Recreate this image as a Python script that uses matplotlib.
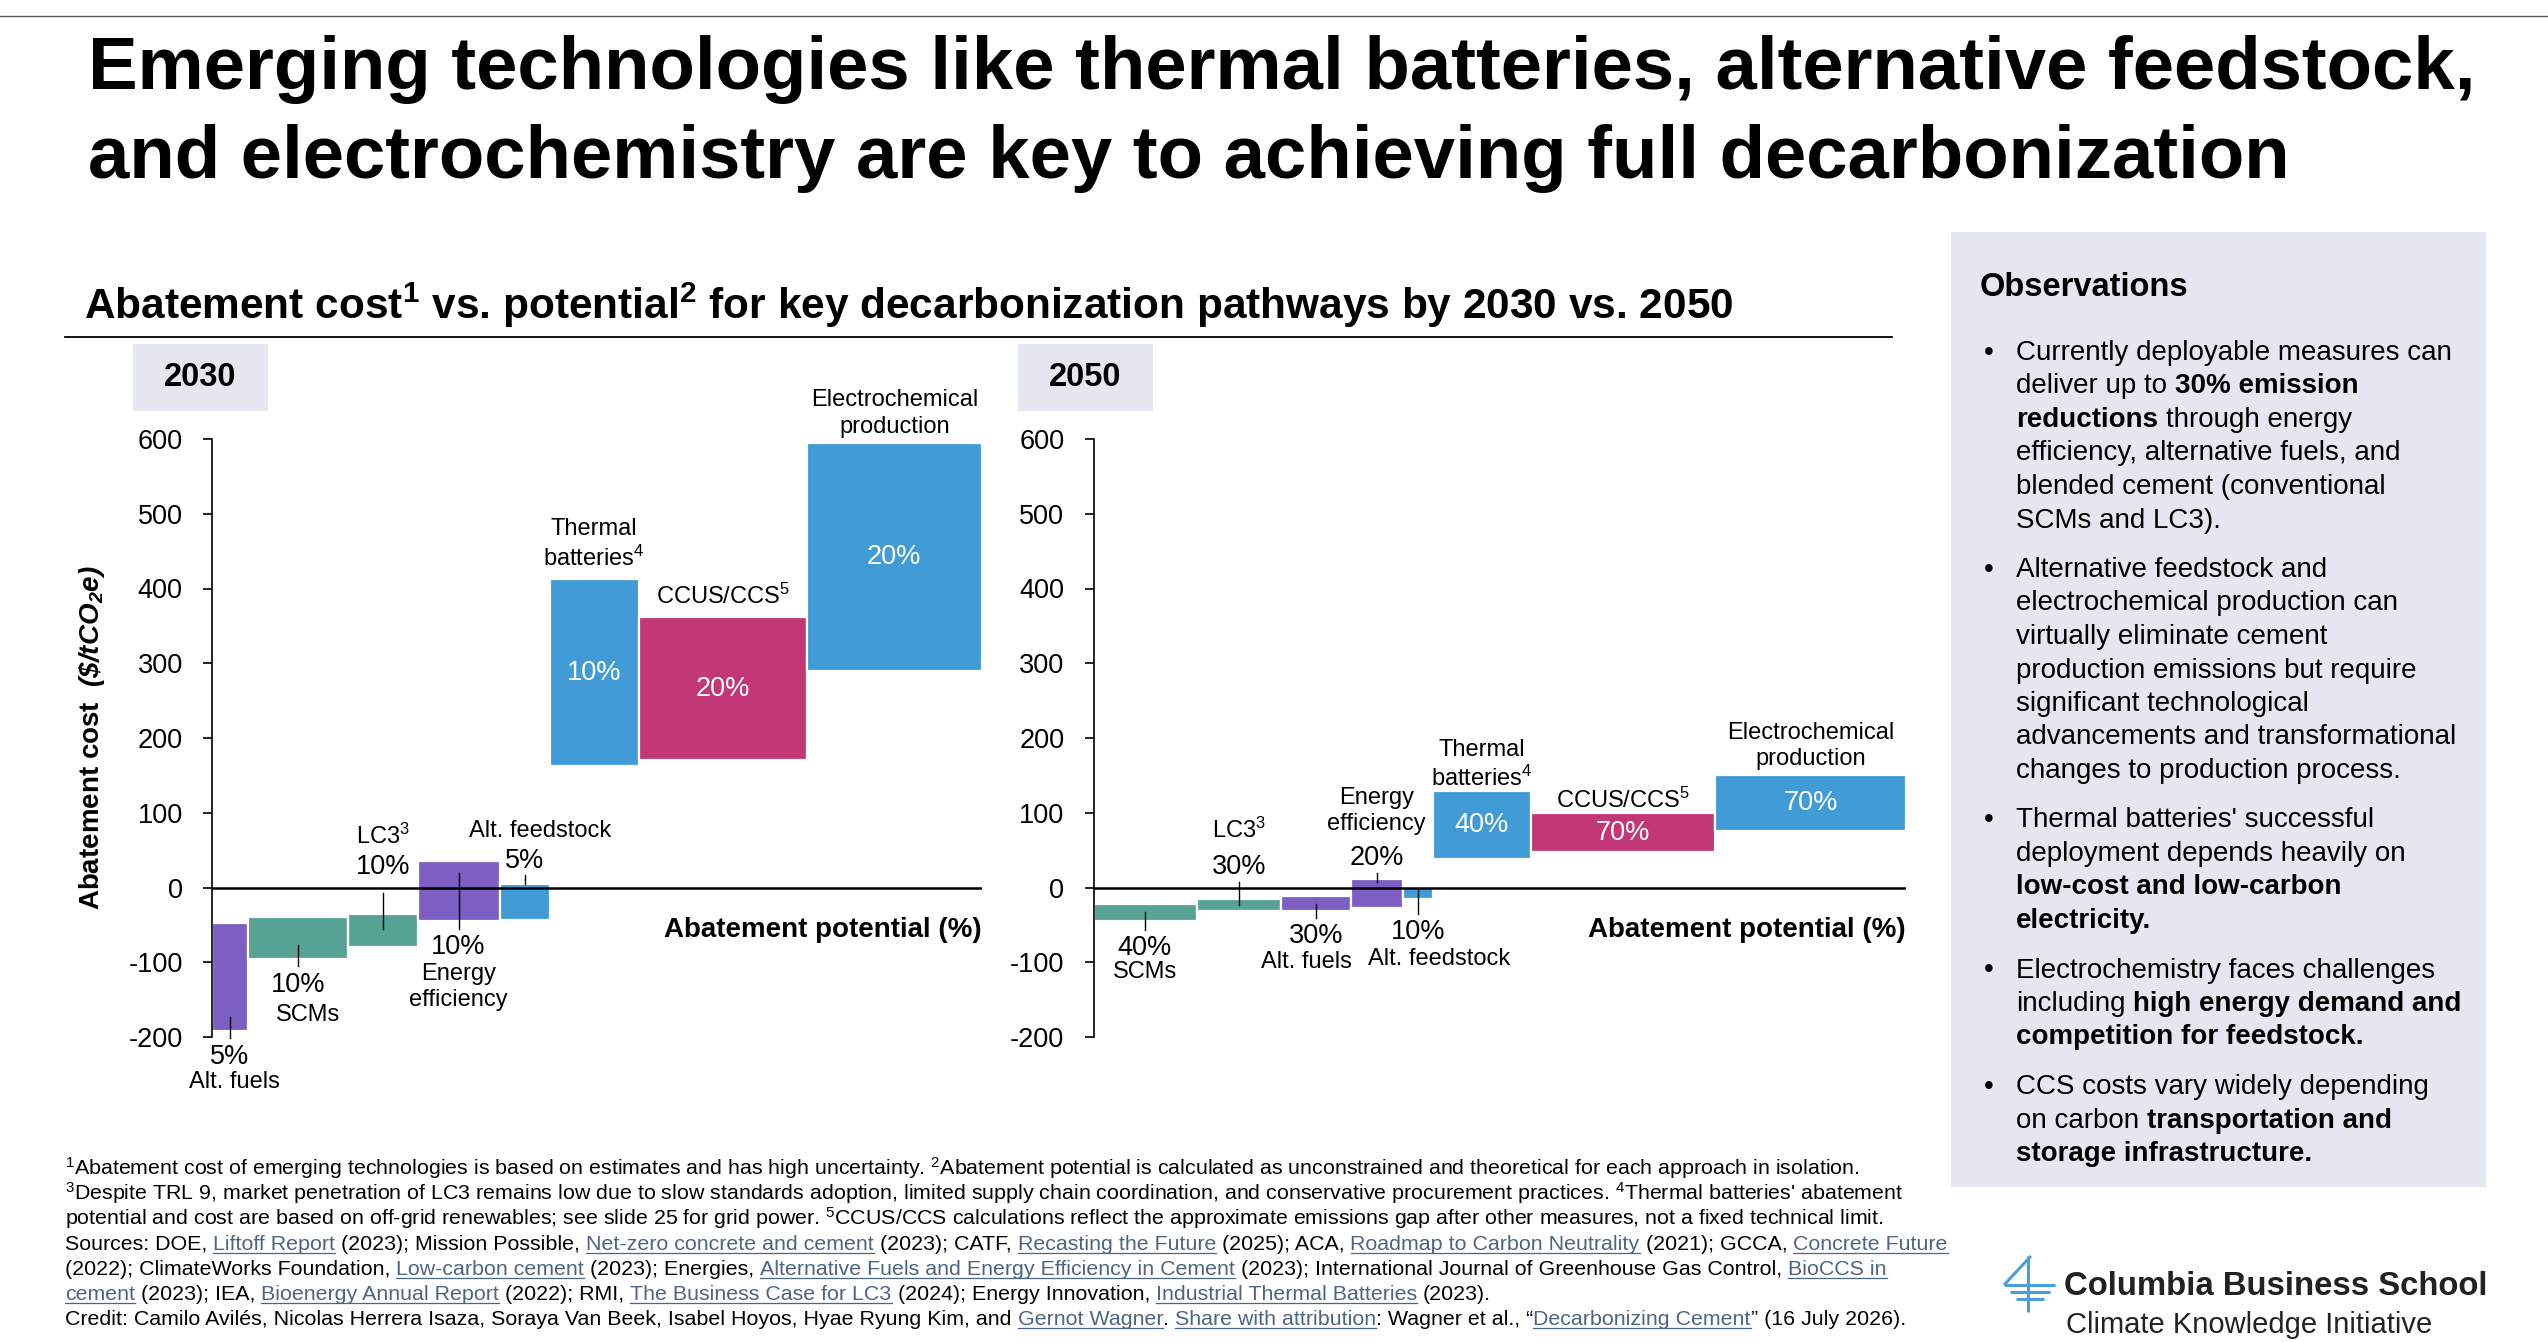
import numpy as np
import matplotlib
matplotlib.use("Agg")
import matplotlib.pyplot as plt
from matplotlib.lines import Line2D
from matplotlib.patches import Rectangle

plt.rcParams['font.family'] = ['Liberation Sans', 'DejaVu Sans']
plt.rcParams['mathtext.fontset'] = 'custom'
plt.rcParams['mathtext.rm'] = 'Liberation Sans'
plt.rcParams['mathtext.it'] = 'Liberation Sans:italic'
plt.rcParams['mathtext.bf'] = 'Liberation Sans:bold'
plt.rcParams['mathtext.bfit'] = 'Liberation Sans:italic:bold'
plt.rcParams['mathtext.default'] = 'regular'
plt.rcParams['axes.unicode_minus'] = False

# ---- datos ----
tech_2030 = ["Alt. fuels", "SCMs", "LC3", "Energy efficiency", "Alt. feedstock",
             "Thermal batteries", "CCUS/CCS", "Electrochemical production"]
label_2030 = ["Alt. fuels", "SCMs", "LC3$^{3}$", "Energy\nefficiency", "Alt. feedstock",
              "Thermal\nbatteries$^{4}$", "CCUS/CCS$^{5}$", "Electrochemical\nproduction"]
pot_2030 = ["5%", "10%", "10%", "10%", "5%", "10%", "20%", "20%"]
width_2030 = [3.55, 10.05, 6.95, 8.2, 5.0, 8.95, 16.75, 17.55]
low_2030 = [-192, -95, -80, -45, -44, 162, 170, 289]
high_2030 = [-47, -39, -35, 35, 5, 413, 362, 595]

tech_2050 = ["SCMs", "LC3", "Alt. fuels", "Energy efficiency", "Alt. feedstock",
             "Thermal batteries", "CCUS/CCS", "Electrochemical production"]
label_2050 = ["SCMs", "LC3$^{3}$", "Alt. fuels", "Energy\nefficiency", "Alt. feedstock",
              "Thermal\nbatteries$^{4}$", "CCUS/CCS$^{5}$", "Electrochemical\nproduction"]
pot_2050 = ["40%", "30%", "30%", "20%", "10%", "40%", "70%", "70%"]
width_2050 = [10.3, 8.45, 7.0, 5.15, 3.05, 9.75, 18.43, 19.12]
low_2050 = [-45, -31, -31, -27, -15, 38, 47, 75]
high_2050 = [-22, -15, -12, 12, 0, 129, 100, 151]

y_ticks = [-200, -100, 0, 100, 200, 300, 400, 500, 600]

PURPLE, TEAL, BLUE, PINK = "#7D5FC3", "#56A396", "#419BD7", "#C23877"
tech_color = {"Alt. fuels": PURPLE, "Energy efficiency": PURPLE, "SCMs": TEAL, "LC3": TEAL,
              "Alt. feedstock": BLUE, "Thermal batteries": BLUE,
              "Electrochemical production": BLUE, "CCUS/CCS": PINK}
PANEL = "#E4E7EF"
LINK = "#4D6482"

# posición de etiquetas: lado, línea guía, % , nombre, desplazamiento x
layout_2030 = [("below", (19, -10), -35, -68, 0.45),
               ("below", (18, -10), -36, -76, 1.05),
               ("above", (-20, 28), 63, 104, 0),
               ("below", (64, -10), -34, -88, 0),
               ("above", (0, 12), 30, 70, 1.6),
               ("above", None, None, 46, 0),
               ("above", None, None, 28, 0),
               ("above", None, None, 39, 0)]
layout_2050 = [("below", (12, -12), -36, -68, 0),
               ("above", (-8, 22), 43, 92, 0),
               ("below", (9, -10), -34, -68, -1.0),
               ("above", (-5, 8), 28, 90, 0),
               ("below", (13, -20), -44, -80, 2.1),
               ("above", None, None, 35, 0),
               ("above", None, None, 17, 0),
               ("above", None, None, 38, 0)]

W, H = 2548, 1342
fig = plt.figure(figsize=(W / 100, H / 100), dpi=100)
r = fig.canvas.get_renderer()


def fx(x):
    return x / W


def fy(y):
    return 1 - y / H


def draw_panel(ax, techs, labels, pots, widths, low, high, layout):
    widths = np.array(widths)
    low = np.array(low)
    high = np.array(high)
    left = np.concatenate([[0], np.cumsum(widths)[:-1]])
    colors = [tech_color[t] for t in techs]
    ax.bar(left, high - low, width=widths, bottom=low, align="edge", color=colors,
           edgecolor="white", linewidth=1.6, zorder=2)
    ax.axhline(0, color="black", lw=1.8, zorder=3)
    for i in range(len(techs)):
        xc = left[i] + widths[i] / 2
        side, guide, p_off, n_off, dx = layout[i]
        ref = low[i] if side == "below" else high[i]
        if guide is not None:
            ax.plot([xc, xc], [ref + guide[0], ref + guide[1]], color="black", lw=1.0,
                    zorder=4, clip_on=False)
        if p_off is None:
            ax.text(xc, (low[i] + high[i]) / 2, pots[i], color="white", fontsize=19.5,
                    ha="center", va="center", zorder=5)
        else:
            ax.text(xc, ref + p_off, pots[i], fontsize=19.5, ha="center", va="center",
                    clip_on=False)
        ax.text(xc + dx, ref + n_off, labels[i], fontsize=17, ha="center", va="center",
                linespacing=1.25, clip_on=False)
    total = widths.sum()
    ax.set_xlim(0, total)
    ax.set_ylim(-200, 600)
    ax.set_yticks(y_ticks)
    ax.set_yticklabels([str(v) for v in y_ticks])
    ax.set_xticks([])
    for s in ["top", "right", "bottom"]:
        ax.spines[s].set_visible(False)
    ax.spines["left"].set_linewidth(1.2)
    ax.tick_params(axis="y", direction="out", length=6.5, width=1.2, pad=14.5,
                   labelsize=19.5)
    ax.patch.set_alpha(0)
    ax.text(total, -57, "Abatement potential (%)", fontsize=20, fontweight="bold",
            ha="right", va="center", clip_on=False)


y_top, y_bot = 439, 1037
ax1 = fig.add_axes([fx(212), fy(y_bot), sum(width_2030) * 10 / W, (y_bot - y_top) / H])
draw_panel(ax1, tech_2030, label_2030, pot_2030, width_2030, low_2030, high_2030, layout_2030)
ax2 = fig.add_axes([fx(1093.5), fy(y_bot), sum(width_2050) * 10 / W, (y_bot - y_top) / H])
draw_panel(ax2, tech_2050, label_2050, pot_2050, width_2050, low_2050, high_2050, layout_2050)

fig.text(fx(92), fy(738), r"Abatement cost  $\mathbfit{(\$/tCO_2e)}$", rotation=90,
         fontsize=20, fontweight="bold", ha="center", va="center")

# ---- cabecera ----
fig.add_artist(Line2D([0, 1], [fy(15.5), fy(15.5)], color="#555555", lw=1.0))
fig.text(fx(88), fy(89), "Emerging technologies like thermal batteries, alternative feedstock,",
         fontsize=53.6, fontweight="bold", va="baseline")
fig.text(fx(88), fy(178), "and electrochemistry are key to achieving full decarbonization",
         fontsize=53.6, fontweight="bold", va="baseline")
fig.text(fx(84), fy(319),
         "Abatement cost$^{1}$ vs. potential$^{2}$ for key decarbonization pathways by 2030 vs. 2050",
         fontsize=30.5, fontweight="bold", va="baseline")
fig.add_artist(Line2D([fx(65), fx(1892)], [fy(337), fy(337)], color="black", lw=1.3))

for x0, x1, yr in [(133, 268, "2030"), (1018, 1153, "2050")]:
    fig.add_artist(Rectangle((fx(x0), fy(411)), (x1 - x0) / W, (411 - 344) / H,
                             transform=fig.transFigure, color=PANEL, lw=0))
    fig.text(fx((x0 + x1) / 2), fy(378), yr, fontsize=23.5, fontweight="bold",
             ha="center", va="center")


# ---- texto con tramos en negrita / enlaces ----
def space_w(size, weight):
    a = fig.text(0, 0, "a a", fontsize=size, fontweight=weight)
    b = fig.text(0, 0, "aa", fontsize=size, fontweight=weight)
    w = a.get_window_extent(r).width - b.get_window_extent(r).width
    a.remove()
    b.remove()
    return w


def run_line(x, y, runs, size):
    for txt, st in runs:
        weight = "bold" if st == "b" else "normal"
        sw = space_w(size, weight)
        core = txt.strip(" ")
        lead = len(txt) - len(txt.lstrip(" "))
        trail = len(txt) - len(txt.rstrip(" "))
        x += lead * sw
        t = fig.text(fx(x), fy(y), core, fontsize=size, fontweight=weight,
                     color=LINK if st == "u" else "black", ha="left", va="baseline")
        w = t.get_window_extent(r).width
        if st == "u":
            fig.add_artist(Line2D([fx(x), fx(x + w)], [fy(y + 3), fy(y + 3)], color=LINK, lw=0.9))
        x += w + trail * sw


# ---- panel de observaciones ----
fig.add_artist(Rectangle((fx(1951), fy(1187)), (2486 - 1951) / W, (1187 - 232) / H,
                         transform=fig.transFigure, color=PANEL, lw=0))
fig.text(fx(1980), fy(287), "Observations", fontsize=23.5, fontweight="bold", va="center")

bullets = [
    [[("Currently deployable measures can", "n")],
     [("deliver up to ", "n"), ("30% emission", "b")],
     [("reductions", "b"), (" through energy", "n")],
     [("efficiency, alternative fuels, and", "n")],
     [("blended cement (conventional", "n")],
     [("SCMs and LC3).", "n")]],
    [[("Alternative feedstock and", "n")],
     [("electrochemical production can", "n")],
     [("virtually eliminate cement", "n")],
     [("production emissions but require", "n")],
     [("significant technological", "n")],
     [("advancements and transformational", "n")],
     [("changes to production process.", "n")]],
    [[("Thermal batteries' successful", "n")],
     [("deployment depends heavily on", "n")],
     [("low-cost and low-carbon", "b")],
     [("electricity.", "b")]],
    [[("Electrochemistry faces challenges", "n")],
     [("including ", "n"), ("high energy demand and", "b")],
     [("competition for feedstock.", "b")]],
    [[("CCS costs vary widely depending", "n")],
     [("on carbon ", "n"), ("transportation and", "b")],
     [("storage infrastructure.", "b")]],
]
yc = 352.5
for para in bullets:
    fig.text(fx(1984), fy(yc + 7.5), "•", fontsize=20, va="baseline")
    for j, line in enumerate(para):
        run_line(2016, yc + 7.5, line, 20)
        if j < len(para) - 1:
            yc += 33.5
    yc += 49.5

# ---- notas al pie ----
notes = [
    [("$^{1}$Abatement cost of emerging technologies is based on estimates and has high uncertainty. "
      "$^{2}$Abatement potential is calculated as unconstrained and theoretical for each approach in isolation.", "n")],
    [("$^{3}$Despite TRL 9, market penetration of LC3 remains low due to slow standards adoption, limited supply "
      "chain coordination, and conservative procurement practices. $^{4}$Thermal batteries' abatement", "n")],
    [("potential and cost are based on off-grid renewables; see slide 25 for grid power. $^{5}$CCUS/CCS "
      "calculations reflect the approximate emissions gap after other measures, not a fixed technical limit.", "n")],
    [("Sources: DOE, ", "n"), ("Liftoff Report", "u"), (" (2023); Mission Possible, ", "n"),
     ("Net-zero concrete and cement", "u"), (" (2023); CATF, ", "n"), ("Recasting the Future", "u"),
     (" (2025); ACA, ", "n"), ("Roadmap to Carbon Neutrality", "u"), (" (2021); GCCA, ", "n"),
     ("Concrete Future", "u")],
    [("(2022); ClimateWorks Foundation, ", "n"), ("Low-carbon cement", "u"), (" (2023); Energies, ", "n"),
     ("Alternative Fuels and Energy Efficiency in Cement", "u"),
     (" (2023); International Journal of Greenhouse Gas Control, ", "n"), ("BioCCS in", "u")],
    [("cement", "u"), (" (2023); IEA, ", "n"), ("Bioenergy Annual Report", "u"), (" (2022); RMI, ", "n"),
     ("The Business Case for LC3", "u"), (" (2024); Energy Innovation, ", "n"),
     ("Industrial Thermal Batteries", "u"), (" (2023).", "n")],
    [("Credit: Camilo Avilés, Nicolas Herrera Isaza, Soraya Van Beek, Isabel Hoyos, Hyae Ryung Kim, and ", "n"),
     ("Gernot Wagner", "u"), (". ", "n"), ("Share with attribution", "u"), (": Wagner et al., \u201c", "n"),
     ("Decarbonizing Cement", "u"), ("\u201d (16 July 2026).", "n")],
]
for k, line in enumerate(notes):
    run_line(65, 1175 + 25 * k, line, 15.4)

# ---- logo ----
LOGO = "#4A9FD8"
for (xa, ya), (xb, yb) in [((2028, 1256), (2028, 1312)), ((2031, 1256), (2004, 1285)),
                           ((2004, 1285), (2055, 1285)), ((2010, 1292), (2050, 1292)),
                           ((2016, 1299), (2044, 1299))]:
    fig.add_artist(Line2D([fx(xa), fx(xb)], [fy(ya), fy(yb)], color=LOGO, lw=2.2,
                          solid_capstyle="butt"))
fig.text(fx(2064), fy(1295), "Columbia Business School", fontsize=23.7, fontweight="bold",
         color="#222222", va="baseline")
fig.text(fx(2066), fy(1333), "Climate Knowledge Initiative", fontsize=21, color="#222222",
         va="baseline")

fig.savefig("out.png", dpi=100)
